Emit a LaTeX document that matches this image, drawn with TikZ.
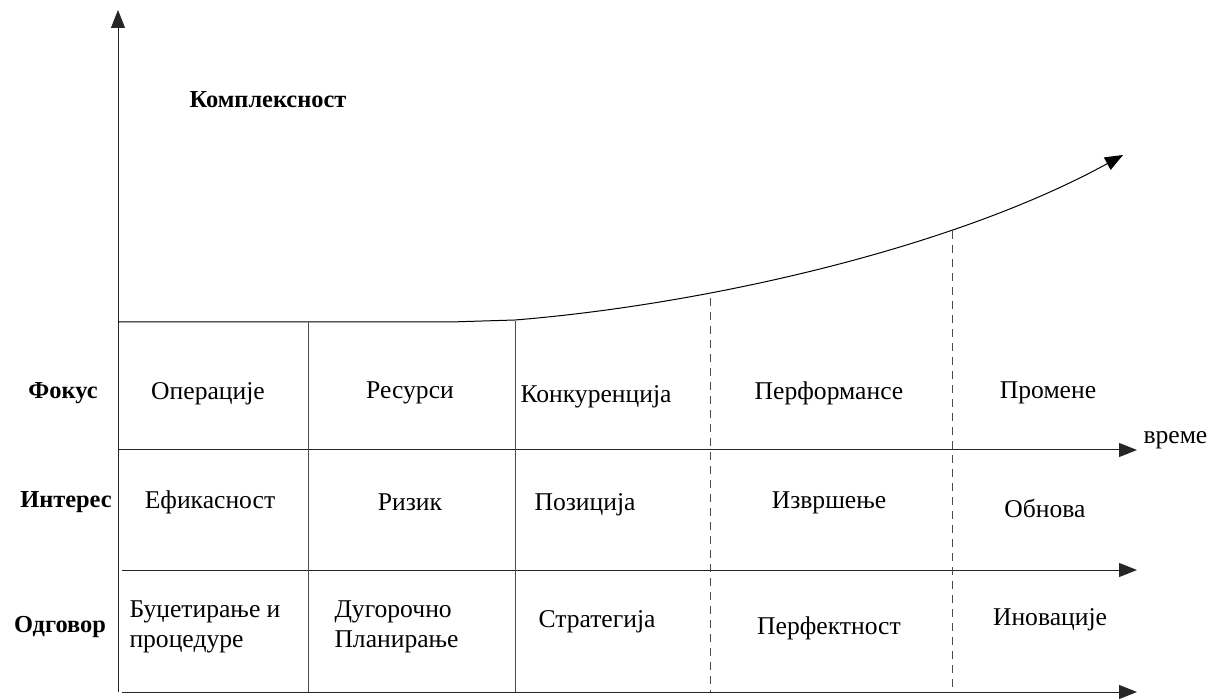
\documentclass[tikz,border=0pt]{standalone}
\usepackage{fontspec}
\setmainfont{Liberation Serif}
\usetikzlibrary{arrows.meta}
\usetikzlibrary{positioning}

\begin{document}
\begin{tikzpicture}[x=0.5pt,y=-0.5pt,line width=0.5pt,
    axis/.style={draw=black!85,-{Triangle[length=9pt,width=7pt]}},
    grid/.style={draw=black!70},
    sep/.style={draw=black!70,dashed,dash pattern=on 4pt off 3pt},
    lbl/.style={font=\fontsize{12.8}{15}\selectfont,inner sep=0pt},
    head/.style={lbl,font=\fontsize{12.2}{15}\selectfont\bfseries},
    cell/.style={lbl,align=left}]
\useasboundingbox (0,0) rectangle (1219,699);
% axes and rows
\coordinate (y0) at (118,692);
\coordinate (ytop) at (118,10);
\coordinate (r0) at (118,322);
\coordinate (r0b) at (450,322);
\coordinate (r0c) at (515,320);
\coordinate (tip) at (1123,155);
\coordinate (r1) at (118,450);
\coordinate (r1e) at (1137,450);
\coordinate (r2) at (122,570);
\coordinate (r2e) at (1137,570);
\coordinate (r3) at (122,692);
\coordinate (r3e) at (1137,692);
\draw[axis] (y0) -- (ytop);
\draw[axis] (r1) -- (r1e);
\draw[axis] (r2) -- (r2e);
\draw[axis] (r3) -- (r3e);
% complexity curve
\draw[axis,draw=black] (r0) -- (r0b) -- (r0c) .. controls (700,305) and (950,250) .. (tip);
% column separators
\coordinate (c1t) at (308,322);  \coordinate (c1b) at (308,692);
\coordinate (c2t) at (515,321);  \coordinate (c2b) at (515,692);
\coordinate (c3t) at (710,298);  \coordinate (c3b) at (710,692);
\coordinate (c4t) at (952,231);  \coordinate (c4b) at (952,692);
\draw[grid] (c1t) -- (c1b);
\draw[grid] (c2t) -- (c2b);
\draw[sep] (c3t) -- (c3b);
\draw[sep] (c4t) -- (c4b);
% labels
\node[head] (kompl) at (268,100) {Комплексност};
\node[lbl,anchor=west] (vreme) at (1143,440) {време};
\node[head] (fokus) at (63,393) {Фокус};
\node[head] (interes) at (66,502) {Интерес};
\node[head] (odgovor) at (60,627) {Одговор};
% focus row
\node[lbl] (f1) at (208,394) {Операције};
\node[lbl] (f2) at (410,393) {Ресурси};
\node[lbl] (f3) at (596,397) {Конкуренција};
\node[lbl] (f4) at (829,393) {Перформансе};
\node[lbl] (f5) at (1048,393) {Промене};
% interest row
\node[lbl] (i1) at (210,502) {Ефикасност};
\node[lbl] (i2) at (410,502) {Ризик};
\node[lbl] (i3) at (585,505) {Позиција};
\node[lbl] (i4) at (829,503) {Извршење};
\node[lbl] (i5) at (1045,508) {Обнова};
% response row
\node[cell,anchor=west] (o1) at (129,627) {Буџетирање и\\процедуре};
\node[cell,anchor=west] (o2) at (334,627) {Дугорочно\\Планирање};
\node[lbl] (o3) at (597,622) {Стратегија};
\node[lbl] (o4) at (829,628) {Перфектност};
\node[lbl] (o5) at (1050,620) {Иновације};
\end{tikzpicture}
\end{document}
